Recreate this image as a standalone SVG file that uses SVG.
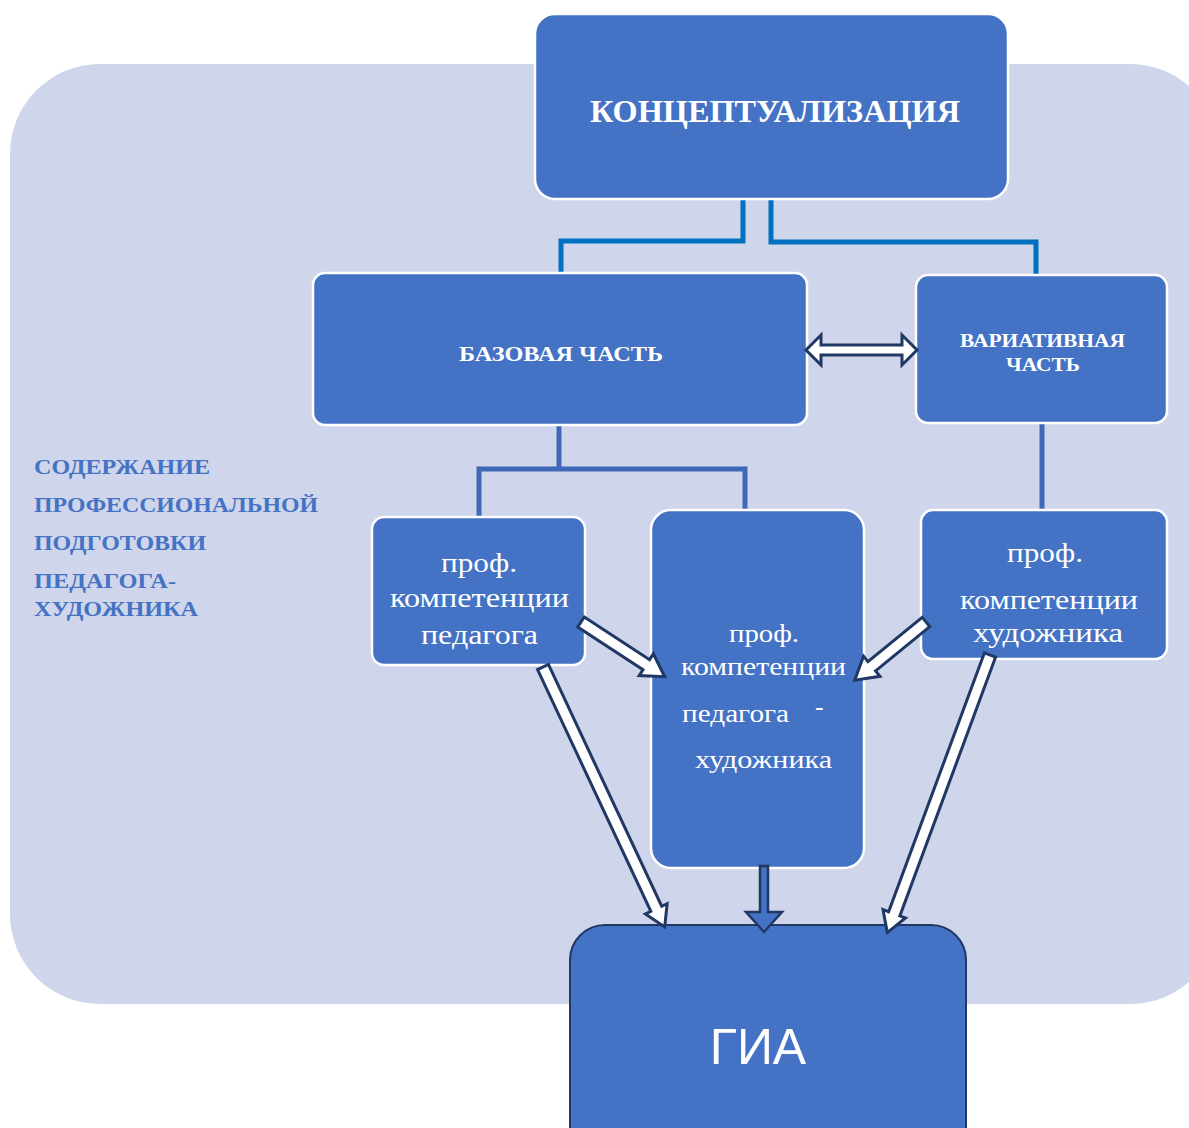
<svg xmlns="http://www.w3.org/2000/svg" width="1189" height="1128" viewBox="0 0 1189 1128">
<style>
.node{fill:#4472C4;stroke:#FFFFFF;stroke-width:2.5}
.t{font-family:"Liberation Serif","Times New Roman",serif;fill:#FFFFFF}
.b{font-weight:bold}
.blk{fill:#FFFFFF;stroke:#203864;stroke-width:3;stroke-linejoin:miter}
.c1{fill:none;stroke:#0070C0;stroke-width:5}
.c2{fill:none;stroke:#3F68B8;stroke-width:5}
.side{font-family:"Liberation Serif","Times New Roman",serif;font-weight:bold;fill:#4472C4;font-size:22px}
</style>
<rect width="1189" height="1128" fill="#FFFFFF"/>
<rect id="background" x="10" y="64" width="1210" height="940" rx="90" ry="90" fill="#CFD5EA"/>

<g id="side-label">
<text class="side" x="34" y="474" textLength="176" lengthAdjust="spacingAndGlyphs">СОДЕРЖАНИЕ</text>
<text class="side" x="34" y="512" textLength="284" lengthAdjust="spacingAndGlyphs">ПРОФЕССИОНАЛЬНОЙ</text>
<text class="side" x="34" y="550" textLength="172" lengthAdjust="spacingAndGlyphs">ПОДГОТОВКИ</text>
<text class="side" x="34" y="588" textLength="142" lengthAdjust="spacingAndGlyphs">ПЕДАГОГА-</text>
<text class="side" x="34" y="616" textLength="164" lengthAdjust="spacingAndGlyphs">ХУДОЖНИКА</text>
</g>

<g id="connectors">
<polyline class="c1" points="743,200 743,241 561,241 561,273"/>
<polyline class="c1" points="771,200 771,242 1036,242 1036,275"/>
<polyline class="c2" points="559,425 559,469"/>
<polyline class="c2" points="479,517 479,469 745,469 745,510"/>
<line class="c2" x1="1042" y1="423" x2="1042" y2="510" stroke-width="4"/>
</g>

<g id="concept">
<rect class="node" x="535" y="14" width="473" height="185" rx="20"/>
<text class="t b" x="590" y="122" font-size="31" textLength="370" lengthAdjust="spacingAndGlyphs">КОНЦЕПТУАЛИЗАЦИЯ</text>
</g>

<g id="base">
<rect class="node" x="313" y="273" width="494" height="152" rx="12"/>
<text class="t b" x="459" y="361" font-size="21" textLength="204" lengthAdjust="spacingAndGlyphs">БАЗОВАЯ ЧАСТЬ</text>
</g>

<g id="variative">
<rect class="node" x="916" y="275" width="251" height="148" rx="12" stroke="none"/>
<text class="t b" x="960" y="347" font-size="19" textLength="165" lengthAdjust="spacingAndGlyphs">ВАРИАТИВНАЯ</text>
<text class="t b" x="1006" y="371" font-size="19" textLength="74" lengthAdjust="spacingAndGlyphs">ЧАСТЬ</text>
</g>

<g id="teacher">
<rect class="node" x="372" y="517" width="213" height="148" rx="12"/>
<text class="t" x="441" y="572" font-size="28" textLength="76" lengthAdjust="spacingAndGlyphs">проф.</text>
<text class="t" x="390" y="607" font-size="28" textLength="179" lengthAdjust="spacingAndGlyphs">компетенции</text>
<text class="t" x="421" y="644" font-size="28" textLength="117" lengthAdjust="spacingAndGlyphs">педагога</text>
</g>

<g id="teacher-artist">
<rect class="node" x="651" y="510" width="213" height="358" rx="20"/>
<text class="t" x="729" y="642" font-size="26" textLength="70" lengthAdjust="spacingAndGlyphs">проф.</text>
<text class="t" x="681" y="675" font-size="26" textLength="165" lengthAdjust="spacingAndGlyphs">компетенции</text>
<text class="t" x="682" y="722" font-size="26" textLength="107" lengthAdjust="spacingAndGlyphs">педагога</text>
<text class="t" x="815" y="715" font-size="26">-</text>
<text class="t" x="695" y="768" font-size="26" textLength="137" lengthAdjust="spacingAndGlyphs">художника</text>
</g>

<g id="artist">
<rect class="node" x="921" y="510" width="246" height="149" rx="12" stroke="none"/>
<text class="t" x="1007" y="562" font-size="28" textLength="76" lengthAdjust="spacingAndGlyphs">проф.</text>
<text class="t" x="960" y="609" font-size="28" textLength="178" lengthAdjust="spacingAndGlyphs">компетенции</text>
<text class="t" x="973" y="642" font-size="28" textLength="150" lengthAdjust="spacingAndGlyphs">художника</text>
</g>

<g id="gia">
<rect x="570" y="925" width="396" height="240" rx="35" fill="#4472C4" stroke="#203864" stroke-width="2"/>
<text x="758" y="1064" font-family="'Liberation Sans',Arial,sans-serif" font-size="50" fill="#FFFFFF" text-anchor="middle">ГИА</text>
</g>

<g id="arrows">
<path class="blk" d="M806,350 L821,335 L821,345 L902,345 L902,335 L917,350 L902,365 L902,355 L821,355 L821,365 Z"/>
<path class="blk" transform="translate(581,622) rotate(33.2)" d="M0,-6 L78,-6 L78,-13 L100,0 L78,13 L78,6 L0,6 Z"/>
<path class="blk" transform="translate(926,622) rotate(140.8)" d="M0,-6 L70,-6 L70,-13 L92,0 L70,13 L70,6 L0,6 Z"/>
<path class="blk" transform="translate(543,667) rotate(64.9)" d="M0,-6 L267,-6 L267,-12 L287,0 L267,12 L267,6 L0,6 Z"/>
<path class="blk" transform="translate(990,655) rotate(110.3)" d="M0,-6 L276,-6 L276,-12 L296,0 L276,12 L276,6 L0,6 Z"/>
<path d="M760,866 L768,866 L768,912 L782,912 L764,932 L746,912 L760,912 Z" fill="#4472C4" stroke="#203864" stroke-width="2.5"/>
</g>
</svg>
